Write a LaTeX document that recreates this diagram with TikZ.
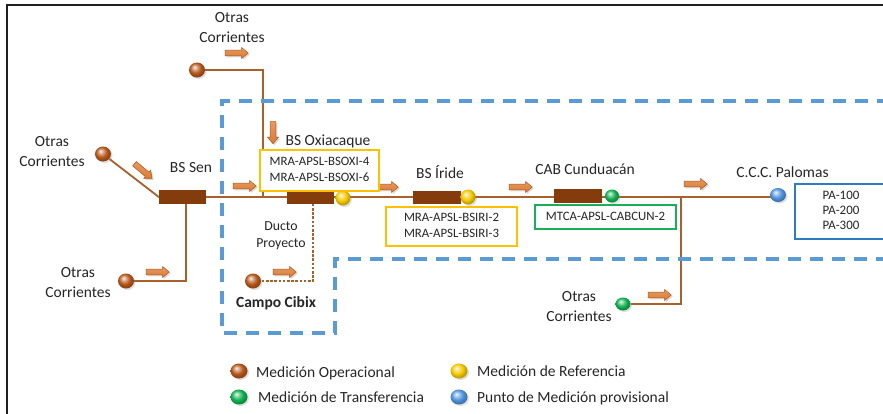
\documentclass[tikz,border=0pt]{standalone}
\usepackage{fontspec}
\setmainfont{Carlito}
\usetikzlibrary{shapes.geometric,shapes.arrows,shadows,backgrounds}

\definecolor{ink}{HTML}{262626}
\definecolor{pipeline}{HTML}{A8602C}
\definecolor{pipefill}{HTML}{843C0C}
\definecolor{arrowfill}{HTML}{DB7A32}
\definecolor{arrowedge}{HTML}{B0561C}
\definecolor{zoneblue}{HTML}{5B9BD5}
\definecolor{refyellow}{HTML}{FFC000}
\definecolor{trfgreen}{HTML}{1BAE5A}
\definecolor{provblue}{HTML}{2F7BC2}
\definecolor{opbrown}{HTML}{B5561A}
\definecolor{refball}{HTML}{F4C800}
\definecolor{trfball}{HTML}{10B050}
\definecolor{provball}{HTML}{4F93DC}
\colorlet{meterbase}{opbrown}

% glossy sphere used for the meters
\pgfdeclareradialshading[meterbase]{glossball}{\pgfqpoint{-8bp}{10bp}}{%
  color(0bp)=(meterbase!8!white); color(8bp)=(meterbase!55!white);
  color(17bp)=(meterbase); color(25bp)=(meterbase!80!black);
  color(50bp)=(meterbase!55!black)}

\newcommand\pairlines[2]{\begin{tabular}[b]{@{}c@{}}#1\\#2\end{tabular}}

\tikzset{
  lbl/.style={font=\fontsize{15.5}{20}\selectfont, text=ink, inner sep=0, anchor=base},
  smalllbl/.style={font=\fontsize{13.8}{17}\selectfont, text=ink, inner sep=0, anchor=base},
  tagbox/.style={font=\fontsize{12.8}{16}\selectfont, text=ink, rectangle, line width=1.8, inner sep=0, fill=white},
  pipebox/.style={rectangle, fill=pipefill, minimum width=47, minimum height=14, inner sep=0},
  pipe/.style={draw=pipeline, line width=1.8},
  minorpipe/.style={draw=pipeline, line width=1.8, dash pattern=on 2.6 off 1.6},
  zone/.style={draw=zoneblue, line width=3.5, dash pattern=on 13 off 9},
  flow/.style={single arrow, top color=arrowfill!75!white, bottom color=arrowfill, draw=arrowedge, line width=0.5,
    minimum height=23, inner xsep=0, inner ysep=2.6, single arrow head extend=2.6,
    single arrow tip angle=80,
    drop shadow={shadow xshift=1.5pt, shadow yshift=-1.5pt, opacity=0.3}},
  meter/.style={ellipse, inner sep=0, minimum width=16, minimum height=15,
    /utils/exec={\colorlet{meterbase}{#1}}, shade, shading=glossball,
    drop shadow={shadow xshift=1.5pt, shadow yshift=-1.5pt, opacity=0.25}},
  keyball/.style={meter=#1, minimum width=17, minimum height=15},
  legend/.style={font=\fontsize{15.5}{20}\selectfont, text=ink, inner sep=0, anchor=base west}
}

\begin{document}
\begin{tikzpicture}[x=1pt,y=-1pt]
\useasboundingbox (0,0) rectangle (883,413);
\clip (0,0) rectangle (883,413);

% frame
\draw[line width=2.5, color=black!88] (7,420) -- (7,5) -- (890,5);

% project zone
\draw[zone] (890,101) -- (222,101) -- (222,333) -- (335,333) -- (335,259) -- (890,259);

% stations
\node[pipebox] (sen) at (182.5,197) {};
\node[pipebox, minimum height=13] (oxi) at (310.5,197) {};
\node[pipebox, minimum width=48, minimum height=13] (iri) at (437,197.5) {};
\node[pipebox, minimum width=48] (cab) at (578,196) {};

% meters on the trunk line
\node[meter=refball, minimum width=15] (yb1) at (343,198) {};
\node[meter=refball, minimum width=15] (yb2) at (468,197) {};
\node[meter=trfball, minimum width=14, minimum height=13] (gb1) at (612,196) {};
\node[meter=provball, minimum height=14] (bb) at (778,195) {};

% incoming streams
\node[meter=opbrown] (oc1) at (103,154) {};
\node[meter=opbrown] (oc2) at (197,70) {};
\node[meter=opbrown] (oc3) at (126,281) {};
\node[meter=opbrown] (oc4) at (253,281) {};
\node[meter=trfball, minimum width=15, minimum height=13] (oc5) at (623,304) {};

\coordinate (j1) at (263,197);
\coordinate (j2) at (681,197);

% piping
\begin{scope}[on background layer]
  \draw[pipe] (oc1) -- (sen.west) -- (sen.west -| bb.center);
  \draw[pipe] (oc2) -| (j1);
  \draw[pipe] ([xshift=3.5]sen.south) |- (oc3);
  \draw[minorpipe] ([xshift=2.5]oxi.south) |- (oc4);
  \draw[pipe] (j2) |- (oc5);
\end{scope}

% flow direction arrows
\node[flow] (f1) at (235,53) {};
\node[flow, rotate=-40] (f2) at (142,170) {};
\node[flow, rotate=-90, minimum height=22] (f3) at (273,131) {};
\node[flow] (f4) at (243,186) {};
\node[flow] (f5) at (385,187) {};
\node[flow] (f6) at (519,187) {};
\node[flow] (f7) at (694,184) {};
\node[flow] (f8) at (156,272) {};
\node[flow] (f9) at (283,272) {};
\node[flow] (f10) at (658,295) {};

% meter tags
\node[tagbox, draw=refyellow, minimum width=119, minimum height=41] (oxitag) at (319.5,170.5)
  {\begin{tabular}{@{}l@{}}MRA-APSL-BSOXI-4\\MRA-APSL-BSOXI-6\end{tabular}};
\node[tagbox, draw=refyellow, minimum width=131, minimum height=39,
      font=\fontsize{12.8}{15.5}\selectfont] (iritag) at (451.5,226.5)
  {\begin{tabular}{@{}c@{}}MRA-APSL-BSIRI-2\\MRA-APSL-BSIRI-3\end{tabular}};
\node[tagbox, draw=trfgreen, minimum width=141, minimum height=24] (cabtag) at (605.5,217)
  {\begin{tabular}{@{}c@{}}MTCA-APSL-CABCUN-2\end{tabular}};
\node[tagbox, draw=provblue, minimum width=92, minimum height=55,
      font=\fontsize{12.9}{15}\selectfont] (patag) at (841,211.5)
  {\begin{tabular}{@{}c@{}}PA-100\\PA-200\\PA-300\end{tabular}};

% labels
\node[lbl] (l_oc2) at (232,42) {\pairlines{Otras}{Corrientes}};
\node[lbl] (l_oc1) at (52,166) {\pairlines{Otras}{Corrientes}};
\node[lbl] (l_oc3) at (78,297) {\pairlines{Otras}{Corrientes}};
\node[lbl] (l_oc5) at (579,321) {\pairlines{Otras}{Corrientes}};
\node[smalllbl] (l_ducto) at (281,247) {\pairlines{Ducto}{Proyecto}};
\node[lbl, font=\fontsize{15.5}{20}\selectfont\bfseries] (l_cibix) at (276,307) {Campo Cibix};
\node[lbl] (l_sen) at (191,172) {BS Sen};
\node[lbl] (l_oxi) at (328,145) {BS Oxiacaque};
\node[lbl] (l_iri) at (440,178) {BS Íride};
\node[lbl] (l_cab) at (585,174) {CAB Cunduacán};
\node[lbl] (l_pal) at (782.5,177) {C.C.C. Palomas};

% legend
\node[keyball=opbrown] (k1) at (239,371) {};
\node[keyball=trfball] (k2) at (239,397) {};
\node[keyball=refball] (k3) at (459,371) {};
\node[keyball=provball] (k4) at (459,397) {};
\node[legend] (t1) at (256,377) {Medición Operacional};
\node[legend] (t2) at (258,402) {Medición de Transferencia};
\node[legend] (t3) at (477,376) {Medición de Referencia};
\node[legend] (t4) at (477,402) {Punto de Medición provisional};
\end{tikzpicture}
\end{document}
